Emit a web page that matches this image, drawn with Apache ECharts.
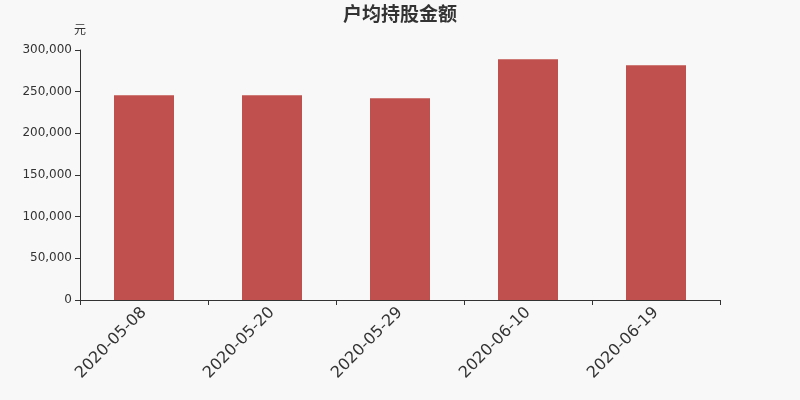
<!DOCTYPE html>
<html><head><meta charset="utf-8">
<script src="https://cdn.jsdelivr.net/npm/echarts@6/dist/echarts.min.js"></script>
<style>html,body{margin:0;padding:0;background:#f8f8f8;}#c{width:800px;height:400px;}</style>
</head><body><div id="c"></div>
<script>
const categories = ['2020-05-08','2020-05-20','2020-05-29','2020-06-10','2020-06-19'];
const values = [245700, 245600, 242000, 288900, 281800];
const yTicks = [0, 50000, 100000, 150000, 200000, 250000, 300000];

const chart = echarts.init(document.getElementById('c'));
chart.setOption({
  backgroundColor: '#f8f8f8',
  animation: false,
  title: {text: '户均持股金额', left: 'center', top: -1,
    textStyle: {fontSize: 19, fontWeight: 'bold', color: '#333', fontFamily: 'Noto Sans CJK SC'}},
  grid: {left: 80, right: 80, top: 50, bottom: 100},
  xAxis: {type: 'category', data: categories,
    axisLine: {lineStyle: {color: '#333'}},
    axisTick: {show: true, alignWithLabel: false, lineStyle: {color: '#333'}},
    axisLabel: {rotate: 45, fontSize: 16, color: '#333', margin: 10, fontFamily: 'DejaVu Sans'}},
  yAxis: {type: 'value', name: '元', min: yTicks[0], max: yTicks[yTicks.length-1], interval: 50000,
    nameGap: 15, nameTextStyle: {color: '#333', fontSize: 12, align: 'center', fontFamily: 'Noto Sans CJK SC'},
    axisLine: {show: true, lineStyle: {color: '#333'}},
    axisTick: {show: true, lineStyle: {color: '#333'}},
    splitLine: {show: false},
    axisLabel: {color: '#333', fontSize: 12, fontFamily: 'DejaVu Sans',
      formatter: v => v.toLocaleString('en-US')}},
  series: [{type: 'bar', data: values, barWidth: 60,
    itemStyle: {color: '#c0504d'}}]
});
</script></body></html>
